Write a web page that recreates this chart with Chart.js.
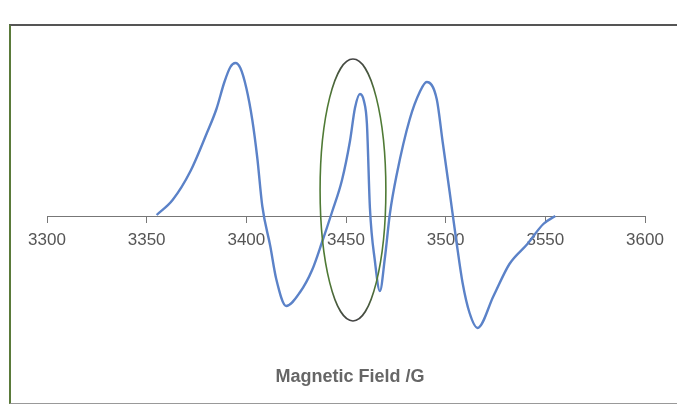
<!DOCTYPE html>
<html>
<head>
<meta charset="utf-8">
<script src="https://cdn.jsdelivr.net/npm/chart.js@4"></script>
<style>
  html, body { margin: 0; padding: 0; background: #fff; }
  #wrap { position: relative; width: 677px; height: 408px; overflow: hidden; }
  #frame {
    position: absolute; left: 9px; top: 24px; width: 700px; height: 377px;
    border-top: 2px solid #555; border-left: 2px solid #5a7a3a; border-bottom: 1px solid #999;
  }
  canvas { position: absolute; left: 0; top: 0; }
</style>
</head>
<body>
<div id="wrap">
  <div id="frame"></div>
  <canvas id="eprChart" width="677" height="408"></canvas>
</div>
<script>
// magnetic field (G) and derivative signal (arbitrary units)
const fieldValues = [3355, 3363, 3372, 3380, 3385, 3389, 3392, 3394.5, 3397, 3400, 3403, 3405.5, 3408, 3412, 3415, 3420,
  3427, 3433, 3438, 3443, 3448, 3452, 3454.5, 3457, 3459, 3460.5, 3462, 3464.5, 3467, 3469.5, 3472,
  3475.5, 3482, 3487, 3490.5, 3495.5, 3498.5, 3502, 3505.5, 3508.5, 3512, 3516, 3524, 3532, 3541, 3549, 3555];
const signalValues = [1, 16, 45, 82, 107, 134, 149, 153, 148, 128, 96, 58, 10, -30, -63, -90,
  -76, -54, -26, 4, 36, 75, 108, 122, 115, 92, 8, -45, -75, -42, 2,
  42, 97, 124, 134, 117, 74, 24, -27, -67, -97, -112, -80, -48, -28, -8, 0];
const tickValues = [3300, 3350, 3400, 3450, 3500, 3550, 3600];
const axisTitle = 'Magnetic Field /G';

// highlighted ring around the central line
const ringCenter = { x: 3453.5, y: 26 };
const ringRadius = { x: 16.5, y: 131 };

const points = fieldValues.map((f, i) => ({ x: f, y: signalValues[i] }));

const overlay = {
  id: 'overlay',
  afterDatasetsDraw(chart) {
    const { ctx, scales: { x, y } } = chart;
    const cx = x.getPixelForValue(ringCenter.x);
    const cy = y.getPixelForValue(ringCenter.y);
    const rx = x.getPixelForValue(ringCenter.x + ringRadius.x) - cx;
    const ry = cy - y.getPixelForValue(ringCenter.y + ringRadius.y);
    const grad = ctx.createLinearGradient(0, cy - ry, 0, cy + ry);
    grad.addColorStop(0, '#444');
    grad.addColorStop(0.15, '#4f7a35');
    grad.addColorStop(0.85, '#4f7a35');
    grad.addColorStop(1, '#444');
    ctx.save();
    ctx.strokeStyle = grad;
    ctx.lineWidth = 1.6;
    ctx.beginPath();
    ctx.ellipse(cx, cy, rx, ry, 0, 0, Math.PI * 2);
    ctx.stroke();

    ctx.fillStyle = '#666';
    ctx.font = 'bold 18px "Liberation Sans", Arial, sans-serif';
    ctx.textAlign = 'center';
    ctx.textBaseline = 'middle';
    ctx.fillText(axisTitle, (chart.chartArea.left + chart.chartArea.right) / 2 + 4, 377);
    ctx.restore();
  }
};

new Chart(document.getElementById('eprChart'), {
  type: 'line',
  data: {
    datasets: [{
      label: 'EPR',
      data: points,
      borderColor: '#5b82c8',
      borderWidth: 2.4,
      pointRadius: 0,
      cubicInterpolationMode: 'monotone',
      fill: false
    }]
  },
  options: {
    responsive: false,
    animation: false,
    layout: { padding: { left: 47, right: 32, top: 40, bottom: 48 } },
    plugins: { legend: { display: false }, tooltip: { enabled: false } },
    scales: {
      x: {
        type: 'linear',
        position: { y: 0 },
        min: 3300,
        max: 3600,
        afterBuildTicks(scale) { scale.ticks = tickValues.map(v => ({ value: v })); },
        border: { color: '#777', width: 1 },
        grid: { drawOnChartArea: false, drawTicks: true, tickLength: 6, color: '#777' },
        ticks: {
          color: '#555',
          padding: 8,
          maxRotation: 0,
          font: { family: '"Liberation Sans", Arial, sans-serif', size: 17 },
          callback: v => String(v)
        }
      },
      y: {
        display: false,
        min: -144,
        max: 176
      }
    }
  },
  plugins: [overlay]
});
</script>
</body>
</html>
